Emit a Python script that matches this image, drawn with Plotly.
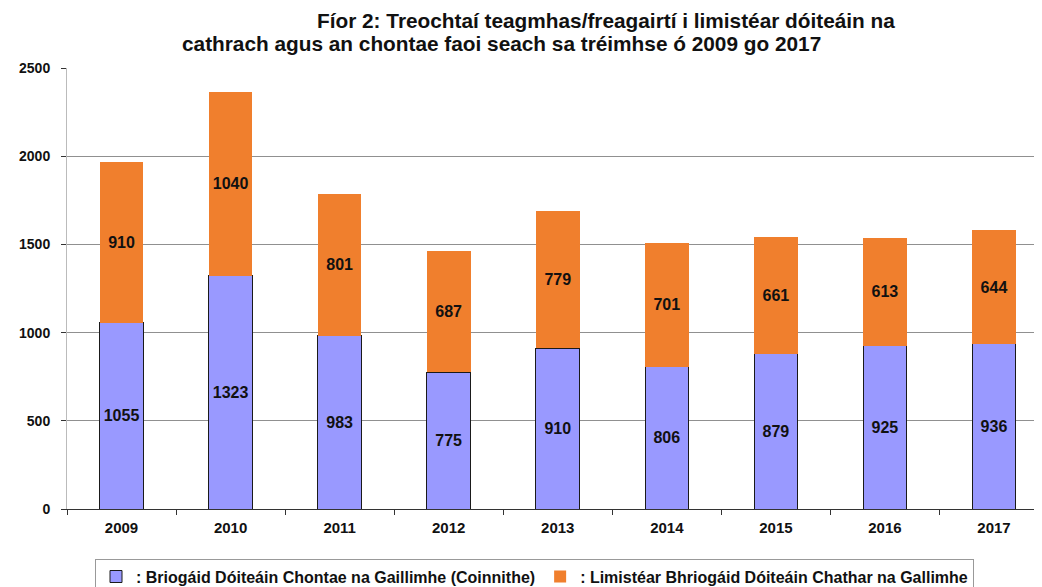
import plotly.graph_objects as go

years = ["2009", "2010", "2011", "2012", "2013", "2014", "2015", "2016", "2017"]
county = [1055, 1323, 983, 775, 910, 806, 879, 925, 936]
city = [910, 1040, 801, 687, 779, 701, 661, 613, 644]
yticks = [0, 500, 1000, 1500, 2000, 2500]

name_county = ": Briogáid Dóiteáin Chontae na Gaillimhe (Coinnithe)"
name_city = ": Limistéar Bhriogáid Dóiteáin Chathar na Gallimhe"

font_bold = "Liberation Sans"

fig = go.Figure()
fig.add_trace(go.Bar(
    x=years, y=county, name=name_county,
    marker=dict(color="#9999FF", line=dict(color="#1a1a1a", width=1)),
    text=[str(v) for v in county], textposition="inside", insidetextanchor="middle",
    textfont=dict(family=font_bold, size=16, color="#111111", weight="bold"),
    width=0.4,
))
fig.add_trace(go.Bar(
    x=years, y=city, name=name_city,
    marker=dict(color="#F07F2D", line=dict(color="#F07F2D", width=0)),
    text=[str(v) for v in city], textposition="inside", insidetextanchor="middle",
    textfont=dict(family=font_bold, size=16, color="#111111", weight="bold"),
    width=0.4,
))

fig.update_layout(
    barmode="stack",
    width=1042, height=587,
    paper_bgcolor="white", plot_bgcolor="white",
    margin=dict(l=59, r=8, t=60, b=86, autoexpand=False),
    font=dict(family=font_bold, size=13, color="#111111"),
    showlegend=True,
    legend=dict(
        orientation="h", xref="container", yref="container",
        x=0.0835, y=0.062, xanchor="left", yanchor="top",
        bordercolor="#999999", borderwidth=1, bgcolor="white",
        font=dict(family=font_bold, size=16, color="#111111", weight="bold"),
        itemwidth=30, traceorder="normal",
    ),
    uniformtext=dict(mode="show", minsize=10),
)

fig.update_xaxes(
    type="category", range=[-0.5, 8.44], automargin=False,
    showline=True, linecolor="#333333", linewidth=1,
    ticks="outside", tickson="boundaries", ticklen=5, tickcolor="#333333",
    ticklabelstandoff=5,
    tickfont=dict(family=font_bold, size=15, color="#111111", weight="bold"),
    showgrid=False,
)
fig.update_yaxes(
    range=[0, 2500], tickvals=yticks, automargin=False,
    showgrid=True, gridcolor="#909090", gridwidth=1,
    showline=True, linecolor="#bbbbbb", linewidth=1,
    ticks="outside", ticklen=5, tickcolor="#333333",
    ticklabelstandoff=8,
    tickfont=dict(family=font_bold, size=14, color="#111111", weight="bold"),
    zeroline=False,
)

title_font = dict(family=font_bold, size=20.8, color="#111111")
fig.add_annotation(
    text="<b>Fíor 2: Treochtaí teagmhas/freagairtí i limistéar dóiteáin na</b>",
    xref="paper", yref="paper", x=(598 - 59) / 975, y=1.0, yshift=34,
    xanchor="center", yanchor="bottom", showarrow=False, font=title_font,
)
fig.add_annotation(
    text="<b>cathrach agus an chontae faoi seach sa tréimhse ó 2009 go 2017</b>",
    xref="paper", yref="paper", x=(493 - 59) / 975, y=1.0, yshift=11,
    xanchor="center", yanchor="bottom", showarrow=False, font=title_font,
)

fig.write_html("out.html")
